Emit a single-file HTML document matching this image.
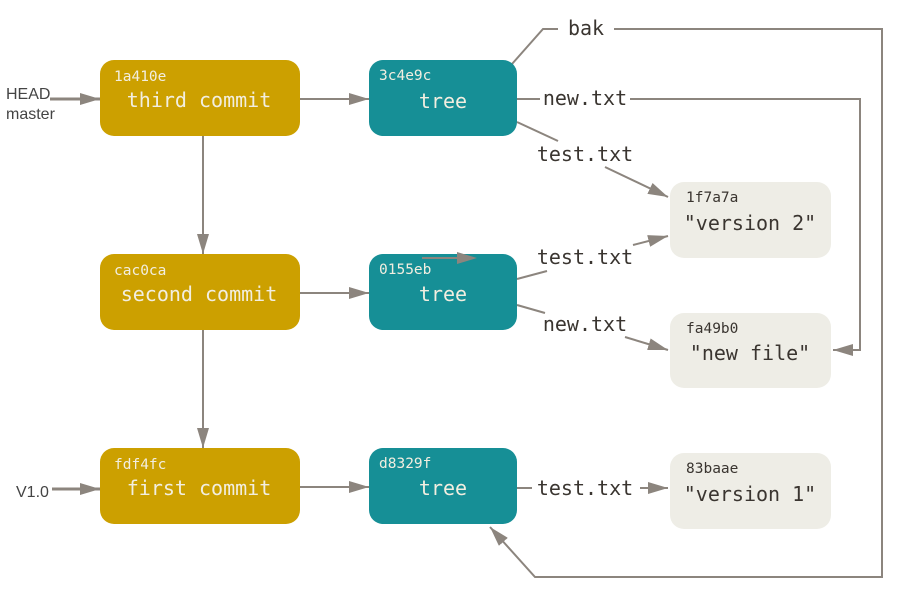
<!DOCTYPE html>
<html><head><meta charset="utf-8"><style>
html,body{margin:0;padding:0;background:#fff;width:900px;height:595px;overflow:hidden}
svg{display:block}
.m{font-family:"DejaVu Sans Mono","Liberation Mono",monospace}
</style></head><body>
<svg width="900" height="595" viewBox="0 0 900 595" xmlns="http://www.w3.org/2000/svg">
<defs>
<marker id="b" markerWidth="20" markerHeight="12" refX="20" refY="6" orient="auto" markerUnits="userSpaceOnUse" viewBox="0 0 20 12">
<path d="M0,0 L20,6 L0,12 z" fill="#8c857e"/>
</marker>
</defs>
<g fill="none" stroke="#8c857e" stroke-width="2">
<line x1="50" y1="99" x2="100" y2="99" marker-end="url(#b)" stroke-width="3"/>
<line x1="52" y1="489" x2="100" y2="489" marker-end="url(#b)" stroke-width="3"/>
<line x1="300" y1="99" x2="369" y2="99" marker-end="url(#b)"/>
<line x1="300" y1="293" x2="369" y2="293" marker-end="url(#b)"/>
<line x1="300" y1="487" x2="369" y2="487" marker-end="url(#b)"/>
<line x1="203" y1="136" x2="203" y2="254" marker-end="url(#b)"/>
<line x1="203" y1="330" x2="203" y2="448" marker-end="url(#b)"/>
<polyline points="512,64 543,29 558,29"/>
<polyline points="614,29 882,29 882,577 535,577 490,527" marker-end="url(#b)"/>
<line x1="517" y1="99" x2="540" y2="99"/>
<polyline points="630,99 860,99 860,350 833,350" marker-end="url(#b)"/>
<line x1="517" y1="122" x2="558" y2="141"/>
<line x1="605" y1="167" x2="668" y2="197" marker-end="url(#b)"/>
<line x1="517" y1="279" x2="547" y2="271"/>
<line x1="633" y1="245" x2="668" y2="236" marker-end="url(#b)"/>
<line x1="517" y1="305" x2="545" y2="313"/>
<line x1="625" y1="337" x2="668" y2="350" marker-end="url(#b)"/>
<line x1="517" y1="488" x2="532" y2="488"/>
<line x1="640" y1="488" x2="668" y2="488" marker-end="url(#b)"/>
</g>
<g fill="#cca000">
<rect x="100" y="60" width="200" height="76" rx="14"/>
<rect x="100" y="254" width="200" height="76" rx="14"/>
<rect x="100" y="448" width="200" height="76" rx="14"/>
</g>
<g fill="#168f96">
<rect x="369" y="60" width="148" height="76" rx="14"/>
<rect x="369" y="254" width="148" height="76" rx="14"/>
<rect x="369" y="448" width="148" height="76" rx="14"/>
</g>
<line x1="422" y1="258" x2="462" y2="258" stroke="#8c857e" stroke-width="2"/>
<path d="M457,252 L477,258 L457,264 z" fill="#8c857e"/>
<g fill="#eeede6">
<rect x="670" y="182" width="161" height="76" rx="14"/>
<rect x="670" y="313" width="161" height="75" rx="14"/>
<rect x="670" y="453" width="161" height="76" rx="14"/>
</g>
<g class="m" fill="#f2eee0">
<text x="114" y="81" font-size="14.5">1a410e</text>
<text x="199" y="107" font-size="20" text-anchor="middle">third commit</text>
<text x="114" y="275" font-size="14.5">cac0ca</text>
<text x="199" y="301" font-size="20" text-anchor="middle">second commit</text>
<text x="114" y="469" font-size="14.5">fdf4fc</text>
<text x="199" y="495" font-size="20" text-anchor="middle">first commit</text>
<text x="379" y="80" font-size="14.5">3c4e9c</text>
<text x="443" y="108" font-size="20" text-anchor="middle">tree</text>
<text x="379" y="274" font-size="14.5">0155eb</text>
<text x="443" y="301" font-size="20" text-anchor="middle">tree</text>
<text x="379" y="468" font-size="14.5">d8329f</text>
<text x="443" y="495" font-size="20" text-anchor="middle">tree</text>
</g>
<g class="m" fill="#3a3530">
<text x="686" y="202" font-size="14.5">1f7a7a</text>
<text x="750" y="230" font-size="20" text-anchor="middle">"version 2"</text>
<text x="686" y="333" font-size="14.5">fa49b0</text>
<text x="750" y="360" font-size="20" text-anchor="middle">"new file"</text>
<text x="686" y="473" font-size="14.5">83baae</text>
<text x="750" y="501" font-size="20" text-anchor="middle">"version 1"</text>
<text x="586" y="35" font-size="20" text-anchor="middle">bak</text>
<text x="585" y="105" font-size="20" text-anchor="middle">new.txt</text>
<text x="585" y="161" font-size="20" text-anchor="middle">test.txt</text>
<text x="585" y="264" font-size="20" text-anchor="middle">test.txt</text>
<text x="585" y="331" font-size="20" text-anchor="middle">new.txt</text>
<text x="585" y="495" font-size="20" text-anchor="middle">test.txt</text>
</g>
<g font-family="'Liberation Sans',sans-serif" font-size="16" fill="#444">
<text x="6" y="99">HEAD</text>
<text x="6" y="119">master</text>
<text x="16" y="497">V1.0</text>
</g>
</svg>
</body></html>
